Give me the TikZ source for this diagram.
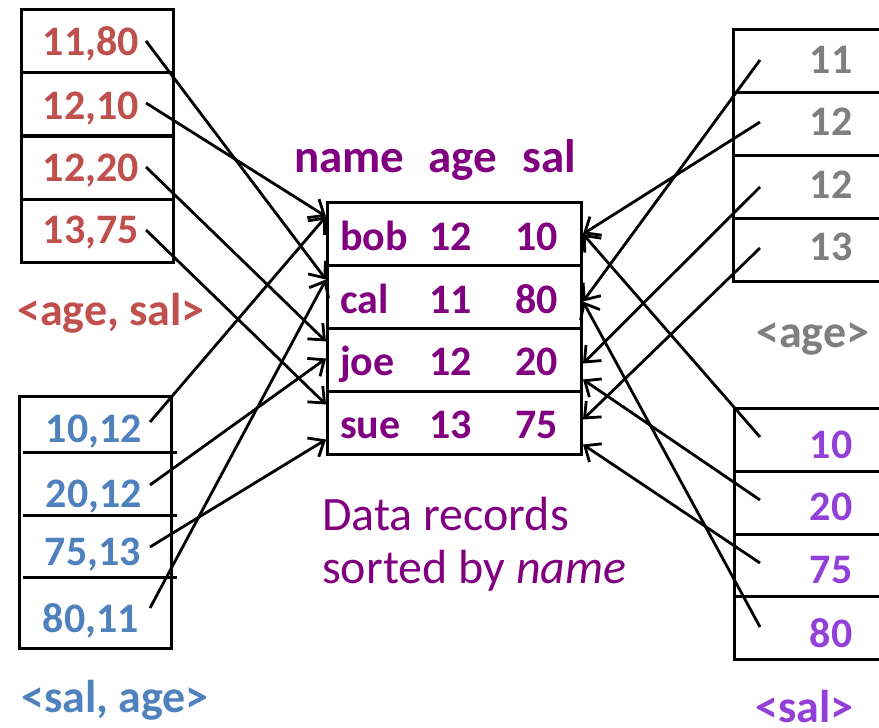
\documentclass[tikz,border=0pt]{standalone}
\usepackage{fontspec}
\setmainfont{Carlito}
\usetikzlibrary{arrows.meta,calc}
\definecolor{agesalc}{HTML}{C0504D}
\definecolor{salagec}{HTML}{4F81BD}
\definecolor{agec}{HTML}{7F7F7F}
\definecolor{salc}{HTML}{9340D9}
\definecolor{recc}{HTML}{800080}
\begin{document}
\begin{tikzpicture}[x=1pt,y=-1pt,
  box/.style={draw, line width=3pt, inner sep=0pt, anchor=north west},
  num/.style={font=\bfseries\fontsize{42}{42}\selectfont, inner sep=0pt},
  tag/.style={font=\bfseries\fontsize{46}{46}\selectfont, inner sep=0pt, anchor=base west},
  link/.style={line width=2.8pt, -{Straight Barb[length=13pt,width=22pt]}},
  rowbox/.style={box, minimum width=254pt, minimum height=63pt},
  lcell/.style={box, minimum width=152pt, minimum height=63pt},
  rcell/.style={box, minimum width=230pt, minimum height=63pt},
]
\useasboundingbox (0,0) rectangle (879,728);
\clip (0,0) rectangle (879,728);

% ---------- index <age, sal> ----------
\node[lcell] (la1) at (20,8) {};
\node[lcell] (la2) at (20,71) {};
\node[lcell] (la3) at (20,134.5) {};
\node[lcell] (la4) at (20,197.5) {};
\begin{scope}[every node/.style={num, text=agesalc, anchor=base east}]
  \node (ta1) at (139,56)  {11,80};
  \node (ta2) at (139,119) {12,10};
  \node (ta3) at (139,181) {12,20};
  \node (ta4) at (139,243) {13,75};
\end{scope}
\node[tag, text=agesalc] (lagesal) at (17,325) {<age, sal>};

% ---------- index <sal, age> ----------
\node[box, minimum width=152pt, minimum height=252pt] (sa) at (18,395) {};
\draw[line width=3pt] (23,452) -- (177,452);
\draw[line width=3pt] (23,515) -- (177,515);
\draw[line width=3pt] (23,577) -- (177,577);
\begin{scope}[every node/.style={num, text=salagec, anchor=base east}]
  \node (tb1) at (142,442) {10,12};
  \node (tb2) at (142,507) {20,12};
  \node (tb3) at (141,565) {75,13};
  \node (tb4) at (139,632) {80,11};
\end{scope}
\node[tag, text=salagec] (lsalage) at (21,712) {<sal, age>};

% ---------- index <age> ----------
\node[rcell] (ag1) at (732,28) {};
\node[rcell] (ag2) at (732,91) {};
\node[rcell] (ag3) at (732,154) {};
\node[rcell] (ag4) at (732,217) {};
\begin{scope}[every node/.style={num, text=agec, anchor=base}]
  \node (tc1) at (831,73)  {11};
  \node (tc2) at (831,135) {12};
  \node (tc3) at (831,198) {12};
  \node (tc4) at (831,260) {13};
\end{scope}
\node[tag, text=agec] (lage) at (756,347) {<age>};

% ---------- index <sal> ----------
\node[rcell, minimum height=62.75pt] (sl1) at (733,407) {};
\node[rcell, minimum height=62.75pt] (sl2) at (733,469.75) {};
\node[rcell, minimum height=62.75pt] (sl3) at (733,532.5) {};
\node[rcell, minimum height=62.75pt] (sl4) at (733,595.25) {};
\begin{scope}[every node/.style={num, text=salc, anchor=base}]
  \node (td1) at (831,458) {10};
  \node (td2) at (831,520) {20};
  \node (td3) at (831,583) {75};
  \node (td4) at (831,647) {80};
\end{scope}
\node[tag, text=salc] (lsal) at (755,722) {<sal>};

% ---------- data records ----------
\node[rowbox] (r1) at (326,201) {};
\node[rowbox] (r2) at (326,264) {};
\node[rowbox] (r3) at (326,327) {};
\node[rowbox] (r4) at (326,390) {};
\begin{scope}[every node/.style={font=\bfseries\fontsize{47}{47}\selectfont, inner sep=0pt, text=recc}]
  \node[anchor=base west] (hname) at (294,172) {name};
  \node[anchor=base west] (hage)  at (428,172) {age};
  \node[anchor=base east] (hsal)  at (576,172) {sal};
\end{scope}
\begin{scope}[every node/.style={num, text=recc}]
  \node[anchor=base west] (n1) at (340,250) {bob};
  \node[anchor=base west] (a1) at (429,250) {12};
  \node[anchor=base east] (s1) at (558,250) {10};
  \node[anchor=base west] (n2) at (340,313) {cal};
  \node[anchor=base west] (a2) at (429,313) {11};
  \node[anchor=base east] (s2) at (558,313) {80};
  \node[anchor=base west] (n3) at (340,375) {joe};
  \node[anchor=base west] (a3) at (429,375) {12};
  \node[anchor=base east] (s3) at (558,375) {20};
  \node[anchor=base west] (n4) at (340,438) {sue};
  \node[anchor=base west] (a4) at (429,438) {13};
  \node[anchor=base east] (s4) at (558,438) {75};
\end{scope}
\begin{scope}[every node/.style={inner sep=0pt, anchor=base west, text=recc,
      font=\fontsize{48}{48}\selectfont}]
  \node (cap1) at (322,530) {Data records};
  \node (cap2) at (322,583) {sorted by \textit{name}};
\end{scope}

% ---------- pointer origins ----------
\coordinate (pa1) at (146,41);
\coordinate (pa2) at (146,103);
\coordinate (pa3) at (146,167);
\coordinate (pa4) at (146,230);
\coordinate (pb1) at (150,422);
\coordinate (pb2) at (150,485);
\coordinate (pb3) at (150,547);
\coordinate (pb4) at (150,608);
\coordinate (pc1) at (760,60);
\coordinate (pc2) at (760,122);
\coordinate (pc3) at (760,187);
\coordinate (pc4) at (760,248);
\coordinate (pd1) at (760,437);
\coordinate (pd2) at (760,500);
\coordinate (pd3) at (760,563);
\coordinate (pd4) at (760,627);

% ---------- pointers into the records ----------
\draw[link] (pa1) -- ($(r2.west)+(0,-17.5)$);
\draw[link] (pa2) -- ($(r1.west)+(0,-17.5)$);
\draw[link] (pa3) -- ($(r3.west)+(0,-18.5)$);
\draw[link] (pa4) -- ($(r4.west)+(0,-18.5)$);

\draw[link] (pb1) -- ($(r1.west)+(0,-17.5)$);
\draw[link] (pb2) -- ($(r3.west)+(0,-1.5)$);
\draw[link] (pb3) -- ($(r4.west)+(0,16.5)$);
\draw[link] (pb4) -- ($(r2.west)+(0,-17.5)$);

\draw[link] (pc1) -- ($(r2.east)+(0,4.5)$);
\draw[link] (pc2) -- (r1.east);
\draw[link] (pc3) -- ($(r3.east)+(0,3.5)$);
\draw[link] (pc4) -- ($(r4.east)+(0,-3.5)$);

\draw[link] (pd1) -- (r1.east);
\draw[link] (pd2) -- ($(r3.east)+(0,19.5)$);
\draw[link] (pd3) -- ($(r4.east)+(0,21.5)$);
\draw[link] (pd4) -- ($(r2.east)+(0,4.5)$);
\end{tikzpicture}
\end{document}
